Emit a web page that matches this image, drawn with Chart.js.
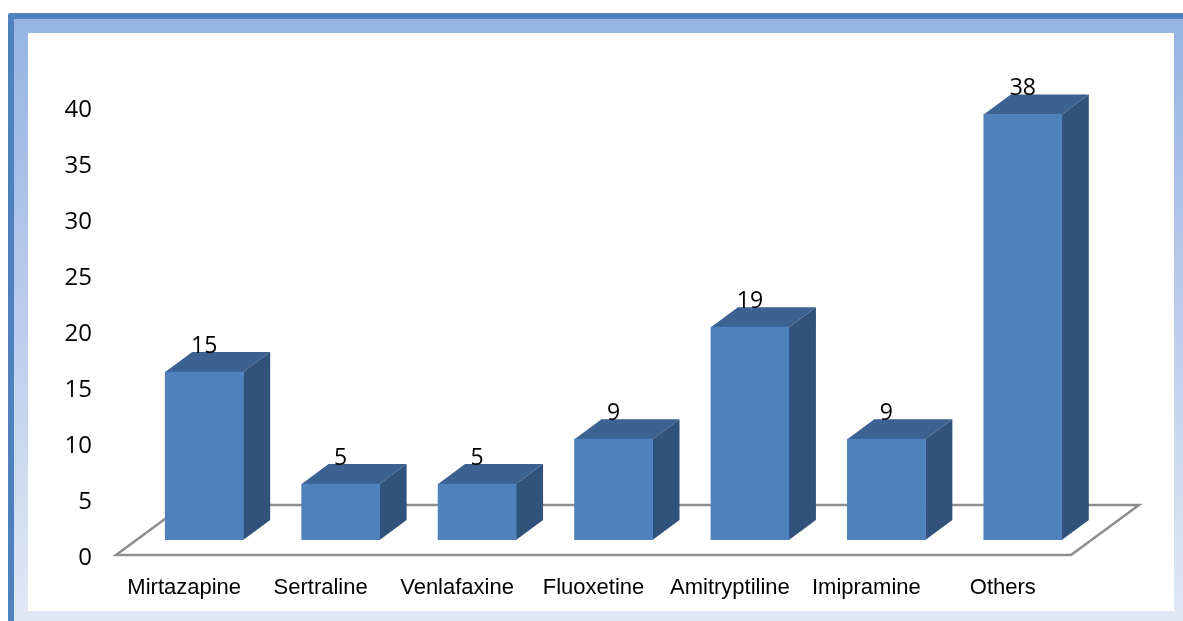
<!DOCTYPE html>
<html>
<head>
<meta charset="utf-8">
<style>
  html, body { margin: 0; padding: 0; background: #fff; }
  body { position: relative; width: 1183px; height: 621px; overflow: hidden; }
  #frame {
    position: absolute; left: 8px; top: 13px; width: 1175px; height: 608px;
    box-sizing: border-box; border-left: 6px solid #4f81bd; border-top: 6px solid #4f81bd;
    border-top-left-radius: 3px;
    background: linear-gradient(to bottom, #96b3e3 0%, #e0e8f5 100%);
  }
  #panel { position: absolute; left: 28px; top: 33px; width: 1146px; height: 578px; background: #fff; }
  canvas { position: absolute; left: 0; top: 0; }
</style>
</head>
<body>
<div id="frame"></div>
<div id="panel"></div>
<canvas id="chart" width="1183" height="621"></canvas>
<script src="https://cdn.jsdelivr.net/npm/chart.js@4"></script>
<script>
const categories = ['Mirtazapine', 'Sertraline', 'Venlafaxine', 'Fluoxetine', 'Amitryptiline', 'Imipramine', 'Others'];
const values = [15, 5, 5, 9, 19, 9, 38];
const yTicks = [0, 5, 10, 15, 20, 25, 30, 35, 40];

const DEPTH_X = 27, DEPTH_Y = 20;
const FRONT = '#4f81bd', SIDE = '#31527b', TOP = '#3b6291', FLOOR = '#8e8e8e';

function poly(ctx, pts, fill) {
  ctx.beginPath();
  pts.forEach((p, i) => i ? ctx.lineTo(p[0], p[1]) : ctx.moveTo(p[0], p[1]));
  ctx.closePath();
  ctx.fillStyle = fill;
  ctx.fill();
}

// Floor plane and the extruded faces of each bar, placed from the scales.
const prism = {
  id: 'prism',
  beforeDatasetsDraw(chart) {
    const { ctx, chartArea: a, scales: { y } } = chart;
    const y0 = y.getPixelForValue(0);
    const fy = y0 + 15, by = y0 - 35;
    const fl = a.left - 20, fr = a.right - 20, bl = a.left + 48, br = a.right + 48;
    ctx.save();
    ctx.strokeStyle = FLOOR;
    ctx.lineWidth = 2.5;
    ctx.lineJoin = 'miter';
    ctx.beginPath();
    ctx.moveTo(fl, fy); ctx.lineTo(fr, fy); ctx.lineTo(br, by); ctx.lineTo(bl, by);
    ctx.closePath();
    ctx.stroke();
    chart.getDatasetMeta(0).data.forEach(b => {
      const l = b.x - b.width / 2, r = b.x + b.width / 2;
      poly(ctx, [[l, b.y], [l + DEPTH_X, b.y - DEPTH_Y], [r + DEPTH_X, b.y - DEPTH_Y], [r, b.y]], TOP);
      poly(ctx, [[r, b.y], [r + DEPTH_X, b.y - DEPTH_Y], [r + DEPTH_X, b.base - DEPTH_Y], [r, b.base]], SIDE);
    });
    ctx.restore();
  },
  afterDatasetsDraw(chart) {
    const { ctx } = chart;
    ctx.save();
    ctx.font = '23px "Open Sans"';
    ctx.fillStyle = '#000';
    ctx.textAlign = 'center';
    ctx.textBaseline = 'middle';
    chart.getDatasetMeta(0).data.forEach((b, i) => {
      ctx.fillText(String(values[i]), b.x, b.y - 26);
    });
    ctx.restore();
  }
};

new Chart(document.getElementById('chart'), {
  type: 'bar',
  data: {
    labels: categories,
    datasets: [{ data: values, backgroundColor: FRONT, borderWidth: 0, barThickness: 78 }]
  },
  options: {
    responsive: false,
    animation: false,
    layout: { padding: { top: 92, right: 92, left: 0, bottom: 0 } },
    plugins: { legend: { display: false }, tooltip: { enabled: false } },
    scales: {
      x: {
        grid: { display: false, drawTicks: false },
        border: { display: false },
        afterFit(s) { s.height = 81; },
        ticks: {
          maxRotation: 0, autoSkip: false, padding: 35, labelOffset: -20, color: '#000',
          font: { family: '"Liberation Sans"', size: 22 }
        }
      },
      y: {
        min: 0, max: 40,
        grid: { display: false, drawTicks: false },
        border: { display: false },
        afterFit(s) { s.width = 136; },
        afterBuildTicks(s) { s.ticks = yTicks.map(v => ({ value: v })); },
        ticks: {
          padding: 44, labelOffset: 18, color: '#000',
          font: { family: '"Open Sans"', size: 24 }
        }
      }
    }
  },
  plugins: [prism]
});
</script>
</body>
</html>
